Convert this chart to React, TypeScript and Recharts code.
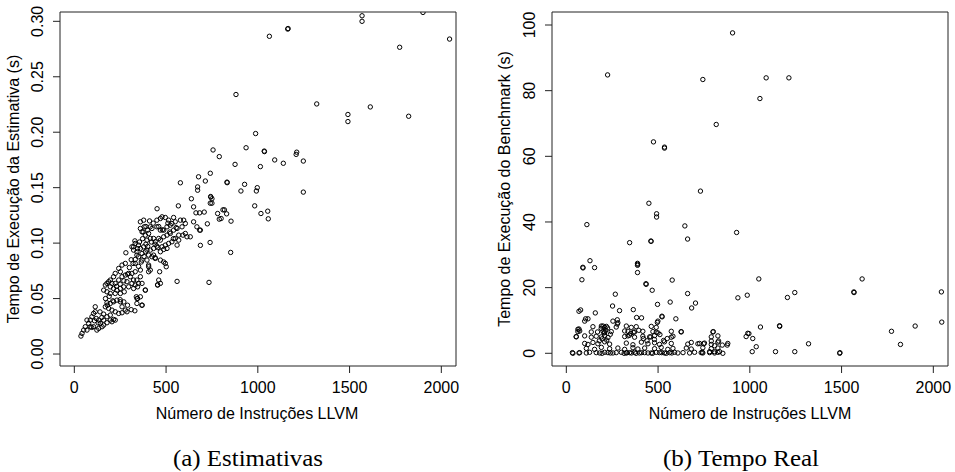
import React from "react";
import { ScatterChart, Scatter, XAxis, YAxis, ReferenceArea } from "recharts";

// [instruções LLVM, tempo da estimativa (s)]
const estimativaPontos: [number, number][] = [
  [1063, 0.2865], [1163, 0.293], [1165, 0.2935], [1568, 0.305], [1568, 0.3], [1900, 0.308],
  [1773, 0.2766], [2045, 0.284], [881, 0.234], [1321, 0.2255], [1491, 0.216], [1491, 0.2096],
  [1613, 0.2228], [1822, 0.2144], [988, 0.1988], [936, 0.186], [1035, 0.183], [1036, 0.1825],
  [756, 0.184], [790, 0.178], [1212, 0.182], [1209, 0.18], [1248, 0.174], [1092, 0.175],
  [1139, 0.172], [876, 0.171], [1014, 0.169], [741, 0.163], [714, 0.156], [832, 0.155],
  [833, 0.1545], [928, 0.153], [908, 0.147], [997, 0.15], [992, 0.147], [1248, 0.146],
  [743, 0.142], [744, 0.1415], [750, 0.14], [741, 0.136], [750, 0.136], [983, 0.1336],
  [1017, 0.1267], [1054, 0.1288], [1057, 0.1219], [708, 0.128], [781, 0.1267], [810, 0.13],
  [818, 0.13], [830, 0.1264], [800, 0.1222], [790, 0.1216], [854, 0.1198], [725, 0.1174],
  [687, 0.1117], [740, 0.1006], [687, 0.098], [852, 0.0916], [734, 0.0646],
  [677, 0.1598], [578, 0.1544], [672, 0.1507], [672, 0.1477], [638, 0.14], [567, 0.1336],
  [451, 0.131], [650, 0.1327], [663, 0.1273], [683, 0.1273], [668, 0.1147], [650, 0.1192],
  [683, 0.1117], [632, 0.1057], [560, 0.0655],
  [478, 0.1237], [496, 0.1231], [514, 0.1207], [541, 0.1231], [550, 0.1192], [578, 0.1207],
  [596, 0.1207], [605, 0.1177], [587, 0.1147], [560, 0.1132], [541, 0.1117], [523, 0.1087],
  [505, 0.1072], [487, 0.1057], [469, 0.1027], [460, 0.1042], [441, 0.1012], [432, 0.1042],
  [414, 0.1042], [396, 0.1027], [405, 0.1087], [423, 0.1132], [450, 0.1147], [469, 0.1117],
  [487, 0.1117], [505, 0.1147], [523, 0.1162], [532, 0.1177], [569, 0.1072], [550, 0.1042],
  [532, 0.1012], [514, 0.0997], [496, 0.0982], [478, 0.0967], [450, 0.0973], [432, 0.0952],
  [414, 0.0937], [396, 0.0937], [378, 0.0967], [360, 0.0952], [350, 0.0982], [332, 0.0997],
  [323, 0.0967], [341, 0.0922], [369, 0.0907], [387, 0.0922], [405, 0.0892], [423, 0.0877],
  [441, 0.0868], [469, 0.0922], [487, 0.0943], [505, 0.0952], [560, 0.0982], [569, 0.1027],
  [592, 0.1072], [605, 0.1087], [614, 0.1057], [378, 0.1207], [360, 0.1192], [381, 0.1147],
  [360, 0.1132], [369, 0.1102], [387, 0.1072], [400, 0.1117], [414, 0.1147], [450, 0.1207],
  [469, 0.1222],
  [281, 0.0913], [314, 0.0967], [323, 0.0937], [341, 0.0892], [332, 0.0853], [320, 0.0817],
  [332, 0.0817], [350, 0.0877], [369, 0.0847], [396, 0.0847], [405, 0.0802], [414, 0.0757],
  [405, 0.0742], [360, 0.0757], [332, 0.0742], [314, 0.0727], [296, 0.0727], [278, 0.0817],
  [260, 0.0802], [242, 0.0772], [251, 0.0742], [223, 0.0727], [214, 0.0697], [196, 0.0667],
  [187, 0.0652], [205, 0.0637], [223, 0.0637], [242, 0.0667], [260, 0.0697], [278, 0.0712],
  [305, 0.0697], [323, 0.0667], [341, 0.0667], [360, 0.0697], [350, 0.0637], [332, 0.0622],
  [314, 0.0637], [287, 0.0652], [269, 0.0606], [251, 0.0591], [232, 0.0576], [214, 0.0591],
  [196, 0.0606], [178, 0.0637], [169, 0.0622], [160, 0.0576], [178, 0.0561], [196, 0.0546],
  [223, 0.0546], [251, 0.0546], [272, 0.0561], [296, 0.0606], [323, 0.0591], [345, 0.0606],
  [369, 0.0637], [387, 0.0576], [360, 0.0516], [345, 0.0501], [369, 0.0441], [341, 0.0456],
  [287, 0.0381], [278, 0.0396], [260, 0.0426], [251, 0.0471], [232, 0.0486], [214, 0.0471],
  [196, 0.0456], [178, 0.0462], [169, 0.0426], [187, 0.0411], [205, 0.0396], [223, 0.0381],
  [242, 0.0366], [260, 0.0372], [196, 0.0351], [178, 0.0336], [160, 0.0306], [142, 0.0276],
  [114, 0.0426], [114, 0.0381], [105, 0.0366], [96, 0.0336], [87, 0.0306], [69, 0.0306],
  [78, 0.0276], [60, 0.0246], [69, 0.0216], [51, 0.0216], [42, 0.0186], [36, 0.0162],
  [87, 0.0246], [105, 0.0246], [123, 0.0216], [133, 0.0231], [151, 0.0246], [160, 0.0261],
  [178, 0.0282], [196, 0.0306], [214, 0.0312], [223, 0.0306], [205, 0.0291], [133, 0.0306],
  [469, 0.0847], [496, 0.0817], [501, 0.0787], [465, 0.0742], [460, 0.0667], [469, 0.0637],
  [454, 0.0622], [432, 0.0892], [441, 0.0862], [405, 0.0787],
  [338, 0.0516], [342, 0.05], [369, 0.044], [387, 0.0577], [454, 0.0624], [487, 0.083],
  [330, 0.102], [345, 0.095], [355, 0.101], [372, 0.104], [390, 0.099], [400, 0.097],
  [420, 0.101], [440, 0.099], [455, 0.096], [380, 0.088], [365, 0.083], [350, 0.079],
  [310, 0.085], [300, 0.078], [290, 0.072], [270, 0.066], [250, 0.063], [230, 0.061],
  [210, 0.048], [190, 0.052], [170, 0.05], [250, 0.049], [270, 0.047], [290, 0.044],
  [310, 0.04], [330, 0.039], [150, 0.033], [130, 0.028], [110, 0.03], [95, 0.024],
  [120, 0.032], [140, 0.038], [160, 0.036], [180, 0.044], [520, 0.11], [540, 0.104],
  [555, 0.114], [510, 0.118], [480, 0.112], [460, 0.115], [430, 0.118], [410, 0.12],
  [390, 0.115], [375, 0.11],
];

// [instruções LLVM, tempo do benchmark (s)]
const benchmarkPontos: [number, number][] = [
  [225, 84.8], [744, 83.4], [817, 69.7], [475, 64.4], [535, 62.8], [535, 62.5], [731, 49.4],
  [906, 97.6], [1089, 83.9], [1213, 83.9], [1055, 77.6], [928, 36.8], [1049, 22.65],
  [1612, 22.65], [935, 16.9], [986, 17.7], [1205, 17.0], [1245, 18.5], [1567, 18.7],
  [1568, 18.5], [2044, 18.7], [2046, 9.5], [1901, 8.3], [1772, 6.7], [1821, 2.7], [801, 6.6],
  [1058, 8.0], [1162, 8.4], [1163, 8.2], [989, 6.1], [995, 6.0], [980, 5.1], [1016, 4.5],
  [1035, 2.0], [1013, 0.5], [1140, 0.5], [1245, 0.5], [1320, 2.9], [1490, 0], [1491, 0.2],
  [726, 3.0], [748, 2.9], [790, 3.75], [830, 3.75], [808, 2.3], [850, 2.5], [877, 2.5],
  [781, 0.5], [808, 0.5], [835, 0.5], [853, 0], [741, 0.3],
  [112, 39.2], [345, 33.7], [450, 45.7], [492, 42.5], [492, 41.5], [461, 34.2], [462, 34.1],
  [646, 38.8], [661, 34.8], [129, 28.2], [90, 26.2], [91, 26.0], [154, 26.1], [85, 22.4],
  [388, 27.4], [388, 26.8], [389, 27.1], [388, 24.6], [434, 21.2], [435, 21.0], [468, 19.2],
  [577, 22.3], [661, 18.2], [704, 15.3], [683, 13.8], [566, 15.6], [497, 14.9], [267, 18.0],
  [252, 14.4], [290, 13.0], [365, 13.3], [521, 11.3], [522, 11.1], [496, 9.4], [597, 10.5],
  [410, 10.8], [383, 10.9], [158, 12.3], [69, 12.8], [78, 13.2], [105, 10.5], [118, 10.5],
  [278, 10.2], [278, 8.9], [626, 6.5], [254, 9.8], [281, 9.3], [100, 9.8], [499, 9.8],
  [54, 5.1], [63, 7.3], [69, 7.4], [36, 0], [69, 0.1], [33, 0.2],
  [73, 0.2], [109, 0.1], [127, 0.3], [163, 0.2], [182, 0.1], [209, 0.3], [227, 0.2],
  [254, 0.1], [272, 0.2], [300, 0.3], [327, 0.1], [345, 0.2], [372, 0.3], [399, 0.1],
  [427, 0.2], [463, 0.1], [490, 0.3], [508, 0.2], [535, 0.1], [563, 0.2], [590, 0.3],
  [608, 0.1], [636, 0.2], [672, 0.1], [699, 0.3], [735, 0.2], [744, 0.1], [781, 0.2],
  [808, 0.1], [826, 0.3], [195, 0.0], [240, 0.1], [315, 0.0], [330, 0.2], [355, 0.1],
  [380, 0.0], [410, 0.2], [445, 0.1], [470, 0.0], [520, 0.2], [545, 0.0], [575, 0.1],
  [109, 1.5], [154, 1.2], [191, 1.8], [236, 1.4], [281, 1.6], [318, 1.2], [363, 1.7],
  [390, 1.3], [427, 1.6], [481, 1.4], [517, 1.8], [553, 1.2], [581, 1.5], [654, 1.6],
  [681, 1.3], [744, 1.7], [790, 1.4], [826, 1.6],
  [100, 3.0], [118, 2.7], [145, 3.3], [172, 2.9], [209, 3.5], [236, 2.8], [327, 3.1],
  [363, 2.6], [409, 3.4], [445, 2.9], [481, 3.2], [508, 2.7], [535, 3.5], [572, 3.0],
  [662, 2.8], [681, 3.3], [717, 2.9], [753, 3.1], [790, 2.7], [826, 3.4], [880, 3.0],
  [54, 5.0], [100, 5.3], [136, 4.9], [163, 5.2], [191, 5.0], [209, 5.4], [227, 4.8],
  [318, 5.1], [336, 5.3], [372, 4.9], [417, 5.2], [454, 5.0], [481, 5.4], [572, 4.9],
  [581, 5.2], [790, 5.0], [826, 5.3],
  [63, 6.6], [73, 6.8], [136, 6.5], [200, 6.7], [209, 6.4], [245, 6.6], [318, 6.8],
  [372, 6.5], [417, 6.7], [472, 6.6], [490, 6.4], [572, 6.7], [626, 6.6], [799, 6.5],
  [145, 8.1], [191, 8.3], [209, 7.9], [218, 8.2], [272, 8.0], [327, 8.3], [354, 7.9],
  [381, 8.1], [463, 8.2], [490, 7.9],
  [190, 7.6], [200, 8.3], [215, 7.0], [205, 6.2], [225, 7.7], [195, 4.4], [180, 3.8],
  [220, 4.0], [240, 5.8], [170, 6.5], [336, 6.7], [350, 6.0], [365, 6.4], [344, 5.5],
  [395, 7.0], [420, 4.5], [440, 3.8], [460, 5.0], [480, 4.2], [500, 6.2], [510, 5.7],
  [530, 3.9], [550, 4.5],
];

const xTicks = [0, 500, 1000, 1500, 2000];
const xDomain = [-78, 2080];
const estTicks = [0, 0.05, 0.1, 0.15, 0.2, 0.25, 0.3];
const estDomain = [-0.0108, 0.3084];
const benchTicks = [0, 20, 40, 60, 80, 100];
const benchDomain = [-3.87, 103.96];

const sans = '"Liberation Sans", Arimo, Arial, sans-serif';
const serif = '"Liberation Serif", "Times New Roman", serif';
const lineColor = "#222";

const Circle = (props: any) => (
  <circle cx={props.cx} cy={props.cy} r={2.2} fill="none" stroke="#000" strokeWidth={1} />
);

const XTick = ({ x, y, payload }: any) => (
  <text x={x} y={y + 18.3} textAnchor="middle" fontSize={16} fontFamily={sans} fill="#000">
    {payload.value}
  </text>
);

const makeYTick = (fmt: (v: number) => string) => ({ x, y, payload }: any) => (
  <text
    x={x - 8.3}
    y={y}
    transform={`rotate(-90, ${x - 8.3}, ${y})`}
    textAnchor="middle"
    fontSize={16}
    fontFamily={sans}
    fill="#000"
  >
    {fmt(payload.value)}
  </text>
);

function Painel({
  pontos,
  yTicks,
  yDomain,
  fmt,
  width,
  marginRight,
}: {
  pontos: [number, number][];
  yTicks: number[];
  yDomain: number[];
  fmt: (v: number) => string;
  width: number;
  marginRight: number;
}) {
  const data = pontos.map(([x, y]) => ({ x, y }));
  return (
    <ScatterChart
      width={width}
      height={472}
      margin={{ top: 12, right: marginRight, bottom: 56, left: 15 }}
    >
      <XAxis
        type="number"
        dataKey="x"
        domain={xDomain}
        ticks={xTicks}
        interval={0}
        allowDataOverflow
        axisLine={false}
        tickLine={{ stroke: lineColor }}
        tickSize={7}
        tickMargin={2}
        height={50}
        tick={XTick}
      />
      <YAxis
        type="number"
        dataKey="y"
        domain={yDomain}
        ticks={yTicks}
        interval={0}
        allowDataOverflow
        axisLine={false}
        tickLine={{ stroke: lineColor }}
        tickSize={7}
        tickMargin={2}
        width={45}
        tick={makeYTick(fmt)}
      />
      <ReferenceArea
        x1={xDomain[0]}
        x2={xDomain[1]}
        y1={yDomain[0]}
        y2={yDomain[1]}
        fill="none"
        stroke={lineColor}
        strokeWidth={1}
        ifOverflow="visible"
      />
      <Scatter data={data} shape={Circle} isAnimationActive={false} />
    </ScatterChart>
  );
}

export default function App() {
  return (
    <div style={{ position: "absolute", left: 0, top: 0, width: 955, height: 472, background: "#fff" }}>
      <div style={{ position: "absolute", left: 0, top: 0 }}>
        <Painel
          pontos={estimativaPontos}
          yTicks={estTicks}
          yDomain={estDomain}
          fmt={(v) => v.toFixed(2)}
          width={470}
          marginRight={14}
        />
      </div>
      <div style={{ position: "absolute", left: 492, top: 0 }}>
        <Painel
          pontos={benchmarkPontos}
          yTicks={benchTicks}
          yDomain={benchDomain}
          fmt={(v) => String(v)}
          width={463}
          marginRight={7}
        />
      </div>
      <svg
        width={955}
        height={472}
        style={{ position: "absolute", left: 0, top: 0, pointerEvents: "none" }}
      >
        <text x={257} y={419} textAnchor="middle" fontSize={16} fontFamily={sans} fill="#000">
          Número de Instruções LLVM
        </text>
        <text x={750} y={419} textAnchor="middle" fontSize={16} fontFamily={sans} fill="#000">
          Número de Instruções LLVM
        </text>
        <text
          x={19}
          y={189}
          transform="rotate(-90, 19, 189)"
          textAnchor="middle"
          fontSize={16}
          fontFamily={sans}
          fill="#000"
        >
          Tempo de Execução da Estimativa (s)
        </text>
        <text
          x={510}
          y={189}
          transform="rotate(-90, 510, 189)"
          textAnchor="middle"
          fontSize={16}
          fontFamily={sans}
          fill="#000"
        >
          Tempo de Execução do Benchmark (s)
        </text>
        <text
          x={248}
          y={466}
          textAnchor="middle"
          fontSize={23}
          fontFamily={serif}
          fill="#000"
          textLength={150}
          lengthAdjust="spacingAndGlyphs"
        >
          (a) Estimativas
        </text>
        <text
          x={741}
          y={466}
          textAnchor="middle"
          fontSize={23}
          fontFamily={serif}
          fill="#000"
          textLength={156}
          lengthAdjust="spacingAndGlyphs"
        >
          (b) Tempo Real
        </text>
      </svg>
    </div>
  );
}
